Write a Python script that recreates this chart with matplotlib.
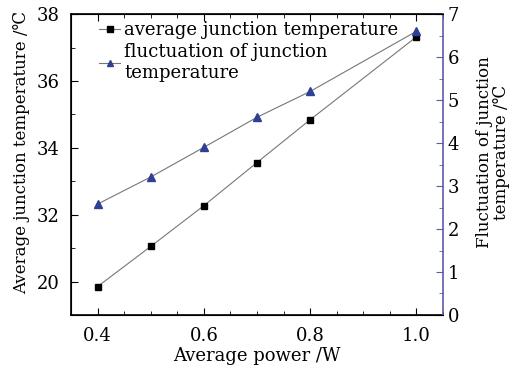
import matplotlib
matplotlib.use("Agg")
import matplotlib.pyplot as plt
from matplotlib.ticker import MultipleLocator, FixedLocator, FixedFormatter

plt.rcParams['font.family'] = ['DejaVu Serif']

power = [0.4, 0.5, 0.6, 0.7, 0.8, 1.0]
avg_temp = [29.85, 31.05, 32.27, 33.56, 34.84, 37.32]
fluct_temp = [2.58, 3.21, 3.90, 4.60, 5.20, 6.60]

left_ticks = [30, 32, 34, 36, 38]
left_labels = ["20", "32", "34", "36", "38"]

blue = "#2e3f94"
axis_blue = "#5c5ca8"
fs = 13

fig = plt.figure(figsize=(5.13, 3.71), dpi=100)
ax = fig.add_axes([0.1384, 0.151, 0.7251, 0.811])
ax2 = ax.twinx()

l1, = ax.plot(power, avg_temp, color="#777777", lw=0.8, marker="s",
              ms=5, mfc="black", mec="black")
l2, = ax2.plot(power, fluct_temp, color="#777777", lw=0.8, marker="^",
               ms=5.5, mfc=blue, mec=blue)

ax.set_xlim(0.35, 1.05)
ax.set_ylim(29, 38)
ax2.set_ylim(0, 7)

ax.set_xticks([0.4, 0.6, 0.8, 1.0])
ax.set_xticklabels(["0.4", "0.6", "0.8", "1.0"])
ax.xaxis.set_minor_locator(MultipleLocator(0.05))
ax.yaxis.set_major_locator(FixedLocator(left_ticks))
ax.yaxis.set_major_formatter(FixedFormatter(left_labels))
ax.yaxis.set_minor_locator(MultipleLocator(1))
ax2.yaxis.set_major_locator(MultipleLocator(1))
ax2.yaxis.set_minor_locator(MultipleLocator(0.5))

ax.tick_params(which="both", direction="in", top=True, labelsize=fs)
ax.tick_params(which="major", length=5)
ax.tick_params(which="minor", length=3)
ax.tick_params(axis="x", pad=9)
ax.tick_params(axis="y", right=False, pad=8)
ax2.tick_params(which="both", direction="in", color=axis_blue, labelsize=fs)
ax2.tick_params(which="major", length=5)
ax2.tick_params(which="minor", length=3)
ax2.spines["right"].set_color(axis_blue)
ax2.spines["right"].set_linewidth(1.2)
for s in ["left", "bottom", "top"]:
    ax.spines[s].set_linewidth(1.2)
ax.spines["right"].set_visible(False)

ax.set_xlabel("Average power /W", fontsize=fs, labelpad=1)
ax.set_ylabel("Average junction temperature /\u2103", fontsize=12)
ax.yaxis.set_label_coords(-0.11, 0.54)
ax2.set_ylabel("Fluctuation of junction\ntemperature /\u2103", fontsize=12,
               linespacing=1.0)
ax2.yaxis.set_label_coords(1.09, 0.54)

ax.legend([l1, l2], ["average junction temperature",
                     "fluctuation of junction\ntemperature"],
          loc="upper left", bbox_to_anchor=(0.055, 1.0),
          frameon=False, fontsize=fs, handlelength=1.2,
          handletextpad=0.2, borderaxespad=0.1, labelspacing=0.2,
          borderpad=0.3, markerscale=0.8)

fig.savefig("out.png", dpi=100)
